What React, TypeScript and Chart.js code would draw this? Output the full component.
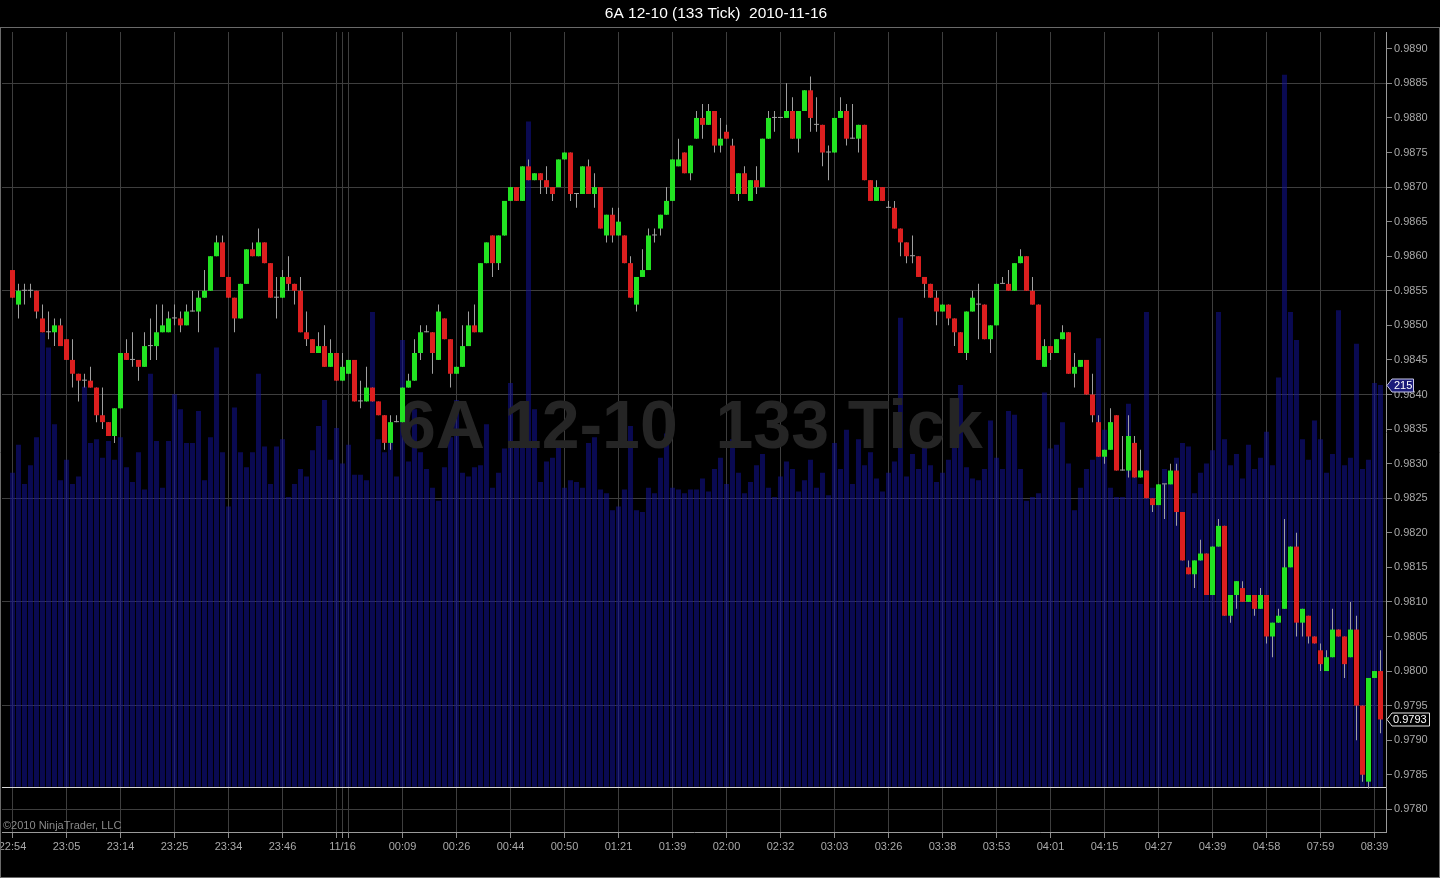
import React, { useEffect, useRef } from 'react';
import { Chart, registerables } from 'chart.js';

Chart.register(...registerables);

const FONT = '"Liberation Sans", Arial, sans-serif';

const titleText = '6A 12-10 (133 Tick)  2010-11-16';
const watermarkText = '6A 12-10  133 Tick';
const copyrightText = '\u00A92010 NinjaTrader, LLC';

const openP = [
  0.9858, 0.9853, 0.9855, 0.9855, 0.9855, 0.9851, 0.9849, 0.9849, 0.9850, 0.9848,
  0.9845, 0.9843, 0.9842, 0.9842, 0.9841, 0.9837, 0.9836, 0.9834, 0.9838, 0.9846,
  0.9845, 0.9845, 0.9844, 0.9847, 0.9847, 0.9849, 0.9849, 0.9851, 0.9851, 0.9850,
  0.9852, 0.9852, 0.9854, 0.9855, 0.9860, 0.9862, 0.9857, 0.9854, 0.9851, 0.9856,
  0.9861, 0.9860, 0.9862, 0.9859, 0.9854, 0.9854, 0.9857, 0.9856, 0.9855, 0.9849,
  0.9848, 0.9846, 0.9847, 0.9844, 0.9846, 0.9842, 0.9843, 0.9845, 0.9839, 0.9839,
  0.9841, 0.9839, 0.9837, 0.9833, 0.9836, 0.9836, 0.9841, 0.9842, 0.9846, 0.9849,
  0.9849, 0.9845, 0.9851, 0.9848, 0.9843, 0.9844, 0.9847, 0.9850, 0.9849, 0.9859,
  0.9863, 0.9859, 0.9863, 0.9868, 0.9870, 0.9868, 0.9873, 0.9871, 0.9872, 0.9871,
  0.9870, 0.9870, 0.9874, 0.9875, 0.9869, 0.9869, 0.9873, 0.9869, 0.9870, 0.9863,
  0.9866, 0.9863, 0.9863, 0.9859, 0.9853, 0.9857, 0.9858, 0.9863, 0.9864, 0.9866,
  0.9868, 0.9873, 0.9875, 0.9872, 0.9877, 0.9880, 0.9879, 0.9881, 0.9876, 0.9878,
  0.9876, 0.9869, 0.9872, 0.9868, 0.9871, 0.9870, 0.9877, 0.9880, 0.9880, 0.9880,
  0.9881, 0.9877, 0.9881, 0.9884, 0.9879, 0.9879, 0.9875, 0.9875, 0.9880, 0.9881,
  0.9877, 0.9877, 0.9879, 0.9871, 0.9868, 0.9870, 0.9867, 0.9867, 0.9864, 0.9862,
  0.9860, 0.9860, 0.9857, 0.9856, 0.9854, 0.9852, 0.9853, 0.9851, 0.9849, 0.9846,
  0.9852, 0.9853, 0.9853, 0.9848, 0.9850, 0.9856, 0.9856, 0.9855, 0.9859, 0.9860,
  0.9855, 0.9853, 0.9844, 0.9847, 0.9846, 0.9848, 0.9849, 0.9843, 0.9844, 0.9845,
  0.9840, 0.9836, 0.9831, 0.9832, 0.9837, 0.9829, 0.9829, 0.9833, 0.9828, 0.9829,
  0.9825, 0.9824, 0.9827, 0.9827, 0.9829, 0.9823, 0.9815, 0.9814, 0.9816, 0.9817,
  0.9811, 0.9818, 0.9821, 0.9808, 0.9811, 0.9812, 0.9810, 0.9811, 0.9809, 0.9811,
  0.9805, 0.9807, 0.9809, 0.9815, 0.9818, 0.9807, 0.9808, 0.9805, 0.9803, 0.9800,
  0.9802, 0.9806, 0.9805, 0.9802, 0.9806, 0.9795, 0.9784, 0.9799, 0.9800,
];

const highP = [
  0.9858, 0.9856, 0.9856, 0.9856, 0.9855, 0.9853, 0.9852, 0.9851, 0.9851, 0.9848,
  0.9848, 0.9843, 0.9843, 0.9844, 0.9841, 0.9841, 0.9836, 0.9838, 0.9846, 0.9848,
  0.9849, 0.9845, 0.9849, 0.9851, 0.9853, 0.9853, 0.9852, 0.9853, 0.9852, 0.9853,
  0.9855, 0.9855, 0.9858, 0.9860, 0.9863, 0.9863, 0.9857, 0.9854, 0.9856, 0.9861,
  0.9862, 0.9864, 0.9862, 0.9859, 0.9857, 0.9858, 0.9860, 0.9856, 0.9857, 0.9852,
  0.9848, 0.9849, 0.9850, 0.9848, 0.9846, 0.9846, 0.9845, 0.9845, 0.9842, 0.9844,
  0.9841, 0.9839, 0.9837, 0.9837, 0.9837, 0.9841, 0.9843, 0.9848, 0.9850, 0.9850,
  0.9849, 0.9853, 0.9851, 0.9848, 0.9844, 0.9850, 0.9852, 0.9853, 0.9859, 0.9862,
  0.9863, 0.9863, 0.9868, 0.9870, 0.9870, 0.9873, 0.9874, 0.9872, 0.9872, 0.9873,
  0.9870, 0.9874, 0.9875, 0.9875, 0.9869, 0.9873, 0.9874, 0.9872, 0.9870, 0.9866,
  0.9867, 0.9867, 0.9863, 0.9860, 0.9857, 0.9861, 0.9864, 0.9864, 0.9866, 0.9870,
  0.9874, 0.9877, 0.9875, 0.9876, 0.9881, 0.9882, 0.9882, 0.9881, 0.9880, 0.9879,
  0.9877, 0.9872, 0.9873, 0.9871, 0.9873, 0.9877, 0.9881, 0.9881, 0.9880, 0.9885,
  0.9883, 0.9881, 0.9884, 0.9886, 0.9883, 0.9879, 0.9876, 0.9880, 0.9883, 0.9882,
  0.9882, 0.9879, 0.9879, 0.9871, 0.9871, 0.9870, 0.9868, 0.9868, 0.9864, 0.9862,
  0.9863, 0.9860, 0.9857, 0.9856, 0.9855, 0.9853, 0.9853, 0.9851, 0.9849, 0.9852,
  0.9855, 0.9856, 0.9853, 0.9850, 0.9856, 0.9857, 0.9858, 0.9859, 0.9861, 0.9860,
  0.9857, 0.9853, 0.9848, 0.9847, 0.9848, 0.9850, 0.9849, 0.9846, 0.9845, 0.9845,
  0.9843, 0.9837, 0.9832, 0.9838, 0.9837, 0.9834, 0.9837, 0.9834, 0.9832, 0.9829,
  0.9825, 0.9827, 0.9827, 0.9830, 0.9830, 0.9823, 0.9816, 0.9816, 0.9819, 0.9817,
  0.9818, 0.9822, 0.9821, 0.9811, 0.9813, 0.9813, 0.9811, 0.9811, 0.9812, 0.9811,
  0.9807, 0.9809, 0.9822, 0.9818, 0.9820, 0.9809, 0.9808, 0.9805, 0.9804, 0.9803,
  0.9809, 0.9806, 0.9805, 0.9810, 0.9808, 0.9795, 0.9799, 0.9800, 0.9803,
];

const lowP = [
  0.9854, 0.9851, 0.9853, 0.9854, 0.9851, 0.9849, 0.9848, 0.9847, 0.9847, 0.9845,
  0.9841, 0.9839, 0.9841, 0.9841, 0.9836, 0.9835, 0.9834, 0.9833, 0.9838, 0.9845,
  0.9844, 0.9842, 0.9844, 0.9845, 0.9845, 0.9849, 0.9849, 0.9850, 0.9849, 0.9850,
  0.9852, 0.9849, 0.9854, 0.9855, 0.9860, 0.9857, 0.9854, 0.9849, 0.9851, 0.9856,
  0.9860, 0.9860, 0.9859, 0.9854, 0.9851, 0.9854, 0.9855, 0.9853, 0.9849, 0.9847,
  0.9846, 0.9846, 0.9844, 0.9844, 0.9842, 0.9842, 0.9843, 0.9839, 0.9838, 0.9839,
  0.9839, 0.9837, 0.9832, 0.9832, 0.9836, 0.9836, 0.9841, 0.9842, 0.9845, 0.9849,
  0.9843, 0.9845, 0.9848, 0.9841, 0.9843, 0.9844, 0.9847, 0.9849, 0.9849, 0.9859,
  0.9857, 0.9858, 0.9863, 0.9868, 0.9868, 0.9868, 0.9871, 0.9871, 0.9869, 0.9869,
  0.9868, 0.9870, 0.9874, 0.9868, 0.9867, 0.9869, 0.9869, 0.9867, 0.9864, 0.9862,
  0.9862, 0.9863, 0.9859, 0.9854, 0.9852, 0.9857, 0.9858, 0.9862, 0.9863, 0.9866,
  0.9868, 0.9873, 0.9872, 0.9871, 0.9877, 0.9877, 0.9879, 0.9875, 0.9875, 0.9877,
  0.9869, 0.9868, 0.9869, 0.9868, 0.9869, 0.9870, 0.9877, 0.9878, 0.9880, 0.9880,
  0.9877, 0.9875, 0.9881, 0.9878, 0.9878, 0.9873, 0.9871, 0.9875, 0.9880, 0.9876,
  0.9877, 0.9875, 0.9871, 0.9868, 0.9868, 0.9868, 0.9867, 0.9864, 0.9860, 0.9859,
  0.9859, 0.9857, 0.9854, 0.9854, 0.9850, 0.9852, 0.9850, 0.9847, 0.9846, 0.9845,
  0.9852, 0.9848, 0.9848, 0.9846, 0.9850, 0.9856, 0.9855, 0.9855, 0.9859, 0.9855,
  0.9853, 0.9845, 0.9844, 0.9845, 0.9846, 0.9848, 0.9843, 0.9841, 0.9844, 0.9840,
  0.9836, 0.9831, 0.9830, 0.9832, 0.9829, 0.9829, 0.9828, 0.9828, 0.9828, 0.9825,
  0.9823, 0.9824, 0.9822, 0.9827, 0.9821, 0.9816, 0.9814, 0.9812, 0.9816, 0.9811,
  0.9811, 0.9818, 0.9808, 0.9807, 0.9809, 0.9810, 0.9810, 0.9808, 0.9809, 0.9804,
  0.9802, 0.9807, 0.9809, 0.9815, 0.9805, 0.9805, 0.9804, 0.9804, 0.9800, 0.9800,
  0.9802, 0.9805, 0.9799, 0.9802, 0.9790, 0.9784, 0.9783, 0.9799, 0.9791,
];

const closeP = [
  0.9854, 0.9855, 0.9855, 0.9855, 0.9852, 0.9849, 0.9849, 0.9850, 0.9847, 0.9845,
  0.9843, 0.9842, 0.9842, 0.9841, 0.9837, 0.9836, 0.9834, 0.9838, 0.9846, 0.9845,
  0.9845, 0.9844, 0.9847, 0.9847, 0.9849, 0.9850, 0.9851, 0.9851, 0.9850, 0.9852,
  0.9852, 0.9854, 0.9855, 0.9860, 0.9862, 0.9857, 0.9854, 0.9851, 0.9856, 0.9861,
  0.9860, 0.9862, 0.9859, 0.9854, 0.9854, 0.9857, 0.9856, 0.9855, 0.9849, 0.9848,
  0.9846, 0.9847, 0.9844, 0.9846, 0.9842, 0.9844, 0.9845, 0.9839, 0.9839, 0.9841,
  0.9839, 0.9837, 0.9833, 0.9836, 0.9836, 0.9841, 0.9842, 0.9846, 0.9849, 0.9849,
  0.9846, 0.9852, 0.9848, 0.9843, 0.9844, 0.9847, 0.9850, 0.9849, 0.9859, 0.9862,
  0.9859, 0.9863, 0.9868, 0.9870, 0.9868, 0.9873, 0.9871, 0.9872, 0.9871, 0.9870,
  0.9869, 0.9874, 0.9875, 0.9869, 0.9869, 0.9873, 0.9869, 0.9870, 0.9864, 0.9866,
  0.9863, 0.9865, 0.9859, 0.9854, 0.9857, 0.9858, 0.9863, 0.9863, 0.9866, 0.9868,
  0.9874, 0.9874, 0.9872, 0.9876, 0.9880, 0.9879, 0.9881, 0.9876, 0.9877, 0.9877,
  0.9869, 0.9872, 0.9869, 0.9871, 0.9870, 0.9877, 0.9880, 0.9880, 0.9880, 0.9881,
  0.9877, 0.9881, 0.9884, 0.9880, 0.9879, 0.9875, 0.9875, 0.9880, 0.9881, 0.9877,
  0.9877, 0.9879, 0.9871, 0.9868, 0.9870, 0.9868, 0.9867, 0.9864, 0.9862, 0.9860,
  0.9860, 0.9857, 0.9856, 0.9854, 0.9852, 0.9853, 0.9851, 0.9849, 0.9846, 0.9852,
  0.9854, 0.9853, 0.9848, 0.9850, 0.9856, 0.9856, 0.9855, 0.9859, 0.9860, 0.9855,
  0.9853, 0.9845, 0.9847, 0.9846, 0.9848, 0.9849, 0.9843, 0.9844, 0.9845, 0.9840,
  0.9837, 0.9831, 0.9832, 0.9836, 0.9829, 0.9829, 0.9834, 0.9828, 0.9829, 0.9825,
  0.9824, 0.9827, 0.9827, 0.9829, 0.9823, 0.9816, 0.9814, 0.9816, 0.9817, 0.9811,
  0.9818, 0.9821, 0.9808, 0.9811, 0.9813, 0.9810, 0.9811, 0.9809, 0.9811, 0.9805,
  0.9807, 0.9808, 0.9815, 0.9818, 0.9807, 0.9809, 0.9805, 0.9804, 0.9801, 0.9802,
  0.9806, 0.9805, 0.9801, 0.9806, 0.9795, 0.9785, 0.9799, 0.9800, 0.9793,
];

const volume = [
  168, 183, 162, 172, 187, 243, 235, 194, 164, 175,
  162, 166, 214, 184, 186, 176, 185, 175, 187, 171,
  163, 179, 159, 221, 185, 160, 185, 210, 202, 184,
  184, 201, 164, 187, 235, 179, 150, 203, 179, 171,
  179, 221, 182, 162, 182, 186, 155, 162, 170, 166,
  180, 193, 207, 175, 192, 173, 183, 167, 167, 164,
  254, 186, 179, 186, 166, 239, 174, 202, 179, 170,
  160, 153, 171, 187, 207, 168, 166, 171, 172, 194,
  160, 168, 181, 216, 182, 202, 356, 202, 163, 174,
  176, 184, 160, 164, 163, 160, 184, 187, 159, 157,
  148, 150, 159, 193, 148, 147, 160, 157, 176, 189,
  160, 159, 157, 159, 159, 165, 158, 170, 176, 162,
  186, 168, 157, 163, 172, 178, 160, 155, 166, 174,
  170, 158, 164, 175, 160, 168, 156, 184, 170, 191,
  162, 186, 172, 179, 165, 158, 168, 174, 251, 166,
  178, 170, 183, 172, 163, 168, 175, 200, 215, 171,
  165, 164, 170, 196, 176, 170, 201, 199, 170, 153,
  155, 157, 211, 181, 183, 195, 173, 148, 160, 170,
  175, 240, 191, 160, 155, 155, 205, 168, 162, 254,
  160, 160, 170, 164, 176, 184, 182, 157, 168, 173,
  180, 254, 186, 172, 178, 165, 183, 170, 176, 190,
  172, 219, 381, 254, 239, 186, 175, 196, 186, 168,
  178, 255, 172, 176, 237, 170, 175, 216, 215,
];

const priceTicks = [
  0.9780, 0.9785, 0.9790, 0.9795, 0.9800, 0.9805, 0.9810, 0.9815, 0.9820, 0.9825,
  0.9830, 0.9835, 0.9840, 0.9845, 0.9850, 0.9855, 0.9860, 0.9865, 0.9870, 0.9875,
  0.9880, 0.9885, 0.9890,
];
const priceGridLines = [0.9780, 0.9795, 0.9810, 0.9825, 0.9840, 0.9855, 0.9870, 0.9885];

const timeTickIndex = [
  0, 9, 18, 27, 36, 45, 54, 55, 56, 65, 74, 83, 92, 101, 110,
  119, 128, 137, 146, 155, 164, 173, 182, 191, 200, 209, 218, 227,
];
const timeTickLabel = [
  '22:54', '23:05', '23:14', '23:25', '23:34', '23:46', '', '11/16', '', '00:09', '00:26', '00:44', '00:50', '01:21', '01:39',
  '02:00', '02:32', '03:03', '03:26', '03:38', '03:53', '04:01', '04:15', '04:27', '04:39', '04:58', '07:59', '08:39',
];

const GREEN = '#22e322';
const RED = '#dc1f1f';
const WICK = '#a0a0a0';
const GRID = '#3e3e3e';
const LABEL = '#a8a8a8';
const VOL = 'rgba(18,18,150,0.55)';

export default function App() {
  const canvasRef = useRef<HTMLCanvasElement | null>(null);

  useEffect(() => {
    const canvas = canvasRef.current;
    if (!canvas) return;
    Chart.defaults.font.family = FONT;

    const decorations = {
      id: 'ninjaDecor',
      beforeDatasetDraw(chart: any, args: any) {
        if (args.index !== 1) return;
        const ctx = chart.ctx;
        const area = chart.chartArea;
        const yVol = chart.scales.yVol;
        ctx.save();
        ctx.fillStyle = '#252525';
        ctx.font = `bold 68px ${FONT}`;
        ctx.textAlign = 'left';
        ctx.textBaseline = 'alphabetic';
        ctx.fillText(watermarkText, 398, 448);
        const y0 = Math.round(yVol.getPixelForValue(0)) + 0.5;
        ctx.strokeStyle = '#d8d8d8';
        ctx.lineWidth = 1;
        ctx.beginPath();
        ctx.moveTo(area.left, y0);
        ctx.lineTo(area.right, y0);
        ctx.stroke();
        ctx.restore();
      },
      afterDraw(chart: any) {
        const ctx = chart.ctx;
        const area = chart.chartArea;
        const y = chart.scales.y;
        const yVol = chart.scales.yVol;
        ctx.save();
        ctx.fillStyle = '#ffffff';
        ctx.font = `15.5px ${FONT}`;
        ctx.textAlign = 'center';
        ctx.textBaseline = 'middle';
        ctx.fillText(titleText, 716, 14);
        ctx.strokeStyle = '#6a6a6a';
        ctx.lineWidth = 1;
        ctx.beginPath();
        ctx.moveTo(0, 27.5);
        ctx.lineTo(1440, 27.5);
        ctx.moveTo(0.5, 27.5);
        ctx.lineTo(0.5, 878);
        ctx.moveTo(1439.5, 27.5);
        ctx.lineTo(1439.5, 878);
        ctx.moveTo(0, 877.5);
        ctx.lineTo(1440, 877.5);
        ctx.stroke();
        ctx.fillStyle = '#8a8a8a';
        ctx.font = `11px ${FONT}`;
        ctx.textAlign = 'left';
        ctx.textBaseline = 'middle';
        ctx.fillText(copyrightText, 3, 826);
        const last = closeP.length - 1;
        const py = Math.round(y.getPixelForValue(closeP[last])) + 0.5;
        ctx.beginPath();
        ctx.moveTo(area.right + 1, py);
        ctx.lineTo(area.right + 6, py - 6.5);
        ctx.lineTo(1429.5, py - 6.5);
        ctx.lineTo(1429.5, py + 6.5);
        ctx.lineTo(area.right + 6, py + 6.5);
        ctx.closePath();
        ctx.fillStyle = '#000000';
        ctx.fill();
        ctx.strokeStyle = '#e6e6e6';
        ctx.stroke();
        ctx.fillStyle = '#ffffff';
        ctx.font = `11px ${FONT}`;
        ctx.fillText(closeP[last].toFixed(4), 1393, py + 0.5);
        const vy = Math.round(yVol.getPixelForValue(volume[last])) + 0.5;
        ctx.beginPath();
        ctx.moveTo(area.right + 1, vy);
        ctx.lineTo(area.right + 6, vy - 6.5);
        ctx.lineTo(1413.5, vy - 6.5);
        ctx.lineTo(1413.5, vy + 6.5);
        ctx.lineTo(area.right + 6, vy + 6.5);
        ctx.closePath();
        ctx.fillStyle = '#1c1c7a';
        ctx.fill();
        ctx.strokeStyle = '#c8c8e8';
        ctx.stroke();
        ctx.fillStyle = '#ffffff';
        ctx.fillText(String(volume[last]), 1394, vy + 0.5);
        ctx.restore();
      },
    };

    const bodyColor = (c: any) => {
      const i = c.dataIndex;
      if (i === undefined) return WICK;
      const o = openP[i];
      const cl = closeP[i];
      return cl > o ? GREEN : cl < o ? RED : WICK;
    };

    const chart = new Chart(canvas, {
      type: 'bar',
      data: {
        datasets: [
          {
            label: 'Volume',
            data: volume.map((v, i) => ({ x: i, y: v })),
            xAxisID: 'x',
            yAxisID: 'yVol',
            backgroundColor: VOL,
            barThickness: 5,
            maxBarThickness: 5,
            grouped: false,
            inflateAmount: 0,
            borderWidth: 0,
            order: 3,
          } as any,
          {
            label: 'Wick',
            data: highP.map((h, i) => ({ x: i, y: [lowP[i], h] })),
            xAxisID: 'x',
            yAxisID: 'y',
            backgroundColor: WICK,
            barThickness: 1,
            maxBarThickness: 1,
            grouped: false,
            inflateAmount: 0,
            borderWidth: 0,
            minBarLength: 1,
            order: 2,
          } as any,
          {
            label: 'Body',
            data: openP.map((o, i) => ({ x: i, y: [o, closeP[i]] })),
            xAxisID: 'x',
            yAxisID: 'y',
            backgroundColor: bodyColor,
            barThickness: 5,
            maxBarThickness: 5,
            grouped: false,
            inflateAmount: 0,
            borderWidth: 0,
            minBarLength: 1,
            order: 1,
          } as any,
        ],
      },
      options: {
        responsive: false,
        animation: false,
        devicePixelRatio: 1,
        layout: { autoPadding: false, padding: { left: 2, top: 32, right: 0, bottom: 0 } },
        plugins: {
          legend: { display: false },
          tooltip: { enabled: false },
          title: { display: false },
        },
        scales: {
          x: {
            type: 'linear',
            min: -1.75,
            max: 228.9167,
            offset: false,
            grid: { color: GRID, offset: false, tickLength: 6, tickColor: '#8a8a8a', drawTicks: true },
            border: { display: true, color: '#9a9a9a' },
            ticks: {
              autoSkip: false,
              maxRotation: 0,
              minRotation: 0,
              color: LABEL,
              padding: 2,
              font: { size: 11, family: FONT },
              callback: (_v: any, idx: number) => timeTickLabel[idx] ?? '',
            },
            afterBuildTicks: (s: any) => {
              s.ticks = timeTickIndex.map((v) => ({ value: v }));
            },
            afterFit: (s: any) => {
              s.height = 46;
              s.paddingLeft = 0;
              s.paddingRight = 0;
            },
          },
          y: {
            type: 'linear',
            position: 'right',
            min: 0.977672,
            max: 0.989243,
            grid: {
              color: (c: any) => {
                const v = c.tick ? c.tick.value : 0;
                return priceGridLines.some((g) => Math.abs(g - v) < 1e-6) ? GRID : 'rgba(0,0,0,0)';
              },
              tickLength: 6,
              tickColor: '#8a8a8a',
            },
            border: { display: true, color: '#9a9a9a' },
            ticks: {
              autoSkip: false,
              color: LABEL,
              padding: 2,
              font: { size: 11, family: FONT },
              callback: (v: any) => Number(v).toFixed(4),
            },
            afterBuildTicks: (s: any) => {
              s.ticks = priceTicks.map((v) => ({ value: v }));
            },
            afterFit: (s: any) => {
              s.width = 54;
              s.paddingTop = 0;
              s.paddingBottom = 0;
            },
          },
          yVol: {
            type: 'linear',
            display: false,
            min: -24.25,
            max: 403.9,
            grid: { display: false },
          },
        },
      } as any,
      plugins: [decorations],
    });

    return () => {
      chart.destroy();
    };
  }, []);

  return (
    <div style={{ position: 'fixed', left: 0, top: 0, width: 1440, height: 878, background: '#000' }}>
      <canvas ref={canvasRef} width={1440} height={878} style={{ display: 'block', width: 1440, height: 878 }} />
    </div>
  );
}
